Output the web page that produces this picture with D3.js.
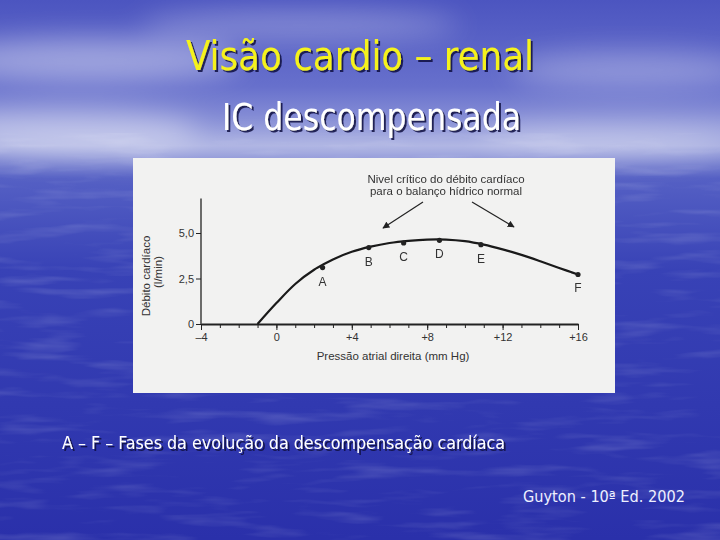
<!DOCTYPE html>
<html>
<head>
<meta charset="utf-8">
<script src="https://cdn.jsdelivr.net/npm/d3@7"></script>
<style>
  html, body { margin: 0; padding: 0; background: #2a30a8; }
  svg { display: block; }
  .axis text { font-family: "Liberation Sans", Arial, sans-serif; font-size: 11px; fill: #333; }
  .axis path, .axis line { stroke: #222; }
</style>
</head>
<body>
<div id="chart"></div>
<script>
// curve: Pressão atrial direita (mm Hg) -> Débito cardíaco (l/min)
const curveX = [-1, 0, 1, 2, 3, 4, 5, 6, 7, 8, 9, 10, 11, 12, 13, 14, 15, 16]
const curveY = [0, 1.15, 2.2, 2.98, 3.55, 3.97, 4.25, 4.45, 4.57, 4.64, 4.64, 4.55, 4.36, 4.1, 3.8, 3.45, 3.08, 2.72]

// phases A - F
const phaseLabels = ['A', 'B', 'C', 'D', 'E', 'F']
const phaseX = [2.45, 4.9, 6.75, 8.65, 10.85, 16]
const phaseY = [3.1, 4.2, 4.45, 4.6, 4.36, 2.72]

const xTickValues = [-4, 0, 4, 8, 12, 16]
const xTickLabels = ['\u20134', '0', '+4', '+8', '+12', '+16']
const xMinorTicks = d3.range(-4, 17, 1)
const yTickValues = [0, 2.5, 5]
const yTickLabels = ['0', '2,5', '5,0']

const width = 720
const height = 540

const svg = d3.select('#chart')
  .append('svg')
  .attr('width', width)
  .attr('height', height)

const defs = svg.append('defs')

// slide background
const bg = defs.append('linearGradient')
  .attr('id', 'bg')
  .attr('x1', '0%').attr('y1', '0%')
  .attr('x2', '0%').attr('y2', '100%')
bg.selectAll('stop')
  .data([
    { offset: 0, color: '#4c55c0' },
    { offset: 0.16, color: '#6770cc' },
    { offset: 0.27, color: '#a0a7de' },
    { offset: 0.33, color: '#5560c4' },
    { offset: 0.5, color: '#3842b6' },
    { offset: 1, color: '#2a30aa' }
  ])
  .enter().append('stop')
  .attr('offset', (d) => d.offset)
  .attr('stop-color', (d) => d.color)

defs.append('filter')
  .attr('id', 'cloud')
  .attr('x', '-50%').attr('y', '-50%')
  .attr('width', '200%').attr('height', '200%')
  .append('feGaussianBlur')
  .attr('stdDeviation', 14)

const water = defs.append('filter').attr('id', 'water')
water.append('feTurbulence')
  .attr('type', 'fractalNoise')
  .attr('baseFrequency', '0.012 0.09')
  .attr('numOctaves', 3)
  .attr('seed', 4)
water.append('feColorMatrix')
  .attr('values', '0 0 0 0 1  0 0 0 0 1  0 0 0 0 1  0 0 0 1.1 -0.55')

const shadow = defs.append('filter').attr('id', 'shadow')
shadow.append('feDropShadow')
  .attr('dx', 2).attr('dy', 2)
  .attr('stdDeviation', 0.6)
  .attr('flood-color', '#101040')
  .attr('flood-opacity', 0.85)

svg.append('rect')
  .attr('width', width)
  .attr('height', height)
  .attr('fill', 'url(#bg)')

svg.append('rect')
  .attr('y', 170)
  .attr('width', width)
  .attr('height', height - 170)
  .attr('filter', 'url(#water)')
  .attr('opacity', 0.3)

// sky streaks
const clouds = svg.append('g').attr('filter', 'url(#cloud)').attr('fill', '#ffffff')
clouds.append('ellipse').attr('cx', 90).attr('cy', 60).attr('rx', 150).attr('ry', 22).attr('opacity', 0.4)
clouds.append('ellipse').attr('cx', 300).attr('cy', 25).attr('rx', 160).attr('ry', 14).attr('opacity', 0.3)
clouds.append('ellipse').attr('cx', 630).attr('cy', 70).attr('rx', 120).attr('ry', 18).attr('opacity', 0.3)
clouds.append('ellipse').attr('cx', 60).attr('cy', 130).attr('rx', 140).attr('ry', 20).attr('opacity', 0.4)
clouds.append('ellipse').attr('cx', 620).attr('cy', 135).attr('rx', 140).attr('ry', 14).attr('opacity', 0.3)
clouds.append('ellipse').attr('cx', 360).attr('cy', 150).attr('rx', 360).attr('ry', 10).attr('opacity', 0.35)

// titles
function fitText (sel, x0, x1) {
  sel.attr('textLength', x1 - x0).attr('lengthAdjust', 'spacingAndGlyphs')
}

svg.append('text')
  .attr('x', 186)
  .attr('y', 70)
  .attr('font-family', '"DejaVu Sans Condensed", "Liberation Sans Narrow", "DejaVu Sans", sans-serif')
  .attr('font-stretch', 'condensed')
  .attr('font-size', 41)
  .attr('fill', '#f5f21c')
  .attr('filter', 'url(#shadow)')
  .text('Visão cardio \u2013 renal')
  .call(fitText, 186, 534)

svg.append('text')
  .attr('x', 222)
  .attr('y', 130)
  .attr('font-family', '"DejaVu Sans Condensed", "Liberation Sans Narrow", "DejaVu Sans", sans-serif')
  .attr('font-stretch', 'condensed')
  .attr('font-size', 37)
  .attr('fill', '#ffffff')
  .attr('filter', 'url(#shadow)')
  .text('IC descompensada')
  .call(fitText, 222, 521)

// the figure
svg.append('rect')
  .attr('x', 133)
  .attr('y', 158)
  .attr('width', 482)
  .attr('height', 235)
  .attr('fill', '#f2f2f1')

const x = d3.scaleLinear().domain([-4, 16]).range([201, 578])
const y = d3.scaleLinear().domain([0, 5]).range([324, 233])
const yAxisTop = 6.9

const chart = svg.append('g').classed('chart-group', true)

// y axis
chart.append('line')
  .attr('x1', x(-4)).attr('x2', x(-4))
  .attr('y1', y(0)).attr('y2', y(yAxisTop))
  .attr('stroke', '#222')
  .attr('stroke-width', 1.3)

const yAxis = d3.axisLeft(y)
  .tickValues(yTickValues)
  .tickFormat((d, i) => yTickLabels[i])
  .tickSize(5)
  .tickSizeOuter(0)
  .tickPadding(2)

chart.append('g')
  .attr('class', 'axis y')
  .attr('transform', `translate(${x(-4)},0)`)
  .call(yAxis)
  .call((g) => g.select('.domain').remove())

// x axis
chart.append('g')
  .attr('class', 'axis x minor')
  .attr('transform', `translate(0,${y(0)})`)
  .call(d3.axisBottom(x).tickValues(xMinorTicks).tickSize(4).tickFormat(''))
  .call((g) => g.select('.domain').remove())

const xAxis = d3.axisBottom(x)
  .tickValues(xTickValues)
  .tickFormat((d, i) => xTickLabels[i])
  .tickSize(6)
  .tickSizeOuter(0)
  .tickPadding(3)

chart.append('g')
  .attr('class', 'axis x')
  .attr('transform', `translate(0,${y(0)})`)
  .call(xAxis)
  .call((g) => g.select('.domain').attr('stroke-width', 2))

// axis titles
chart.append('text')
  .attr('x', 393)
  .attr('y', 360)
  .attr('text-anchor', 'middle')
  .attr('font-family', '"Liberation Sans", Arial, sans-serif')
  .attr('font-size', 11.5)
  .attr('fill', '#333')
  .text('Pressão atrial direita (mm Hg)')

chart.append('text')
  .attr('transform', 'translate(150,276) rotate(-90)')
  .attr('text-anchor', 'middle')
  .attr('font-family', '"Liberation Sans", Arial, sans-serif')
  .attr('font-size', 11.5)
  .attr('fill', '#333')
  .text('Débito cardíaco')

chart.append('text')
  .attr('transform', 'translate(162,272) rotate(-90)')
  .attr('text-anchor', 'middle')
  .attr('font-family', '"Liberation Sans", Arial, sans-serif')
  .attr('font-size', 11.5)
  .attr('fill', '#333')
  .text('(l/min)')

// curve
const line = d3.line()
  .x((d) => x(d[0]))
  .y((d) => y(d[1]))
  .curve(d3.curveCatmullRom.alpha(0.5))

chart.append('path')
  .datum(d3.zip(curveX, curveY))
  .attr('d', line)
  .attr('fill', 'none')
  .attr('stroke', '#1a1a1a')
  .attr('stroke-width', 2.2)

// phase points
const phases = d3.zip(phaseLabels, phaseX, phaseY)
chart.selectAll('.phase')
  .data(phases)
  .enter()
  .append('circle')
  .attr('class', 'phase')
  .attr('cx', (d) => x(d[1]))
  .attr('cy', (d) => y(d[2]))
  .attr('r', 2.6)
  .attr('fill', '#222')

chart.selectAll('.phase-label')
  .data(phases)
  .enter()
  .append('text')
  .attr('class', 'phase-label')
  .attr('x', (d) => x(d[1]))
  .attr('y', (d) => y(d[2]) + 18)
  .attr('text-anchor', 'middle')
  .attr('font-family', '"Liberation Sans", Arial, sans-serif')
  .attr('font-size', 12)
  .attr('fill', '#333')
  .text((d) => d[0])

// annotation
const note = chart.append('text')
  .attr('text-anchor', 'middle')
  .attr('font-family', '"Liberation Sans", Arial, sans-serif')
  .attr('font-size', 11.5)
  .attr('fill', '#333')
note.append('tspan').attr('x', 446).attr('y', 183).text('Nivel crítico do débito cardíaco')
note.append('tspan').attr('x', 446).attr('y', 195).text('para o balanço hídrico normal')

defs.append('marker')
  .attr('id', 'arrow')
  .attr('viewBox', '0 0 10 10')
  .attr('refX', 9).attr('refY', 5)
  .attr('markerWidth', 7).attr('markerHeight', 7)
  .attr('markerUnits', 'userSpaceOnUse')
  .attr('orient', 'auto')
  .append('path')
  .attr('d', 'M0,0 L10,5 L0,10 Z')
  .attr('fill', '#222')

chart.selectAll('.arrow')
  .data([[423, 202, 383, 228], [472, 202, 514, 227]])
  .enter()
  .append('line')
  .attr('class', 'arrow')
  .attr('x1', (d) => d[0]).attr('y1', (d) => d[1])
  .attr('x2', (d) => d[2]).attr('y2', (d) => d[3])
  .attr('stroke', '#222')
  .attr('stroke-width', 1.2)
  .attr('marker-end', 'url(#arrow)')

// footer
svg.append('text')
  .attr('x', 62)
  .attr('y', 449)
  .attr('font-family', '"DejaVu Sans Condensed", "Liberation Sans Narrow", "DejaVu Sans", sans-serif')
  .attr('font-stretch', 'condensed')
  .attr('font-size', 18)
  .attr('fill', '#ffffff')
  .attr('filter', 'url(#shadow)')
  .text('A \u2013 F \u2013 Fases da evolução da descompensação cardíaca')
  .call(fitText, 62, 505)

svg.append('text')
  .attr('x', 523)
  .attr('y', 502)
  .attr('font-family', '"DejaVu Sans Condensed", "Liberation Sans Narrow", "DejaVu Sans", sans-serif')
  .attr('font-stretch', 'condensed')
  .attr('font-size', 15)
  .attr('fill', '#eef0ff')
  .text('Guyton - 10ª Ed. 2002')
  .call(fitText, 523, 685)
</script>
</body>
</html>
